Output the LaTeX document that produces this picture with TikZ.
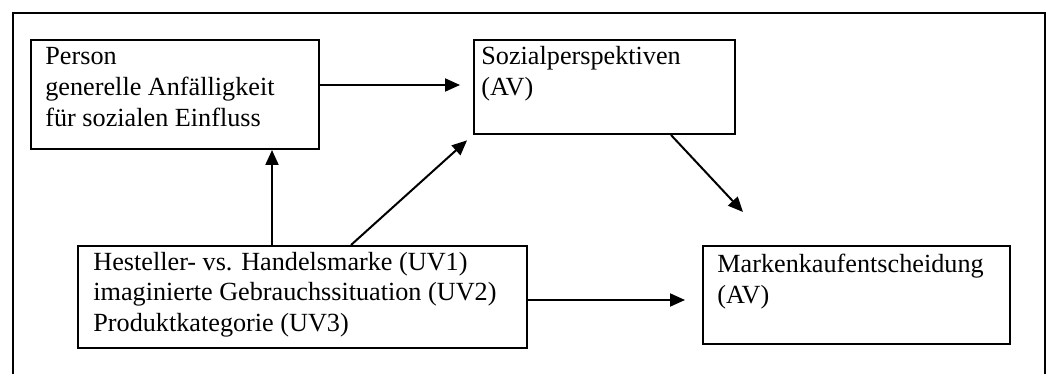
\documentclass[tikz,border=0pt]{standalone}
\usepackage{fontspec}
\setmainfont{Liberation Serif}
\usetikzlibrary{arrows.meta}
\begin{document}
\begin{tikzpicture}[x=0.5pt,y=-0.5pt,
  box/.style={draw, line width=1pt, inner sep=0pt, anchor=north west},
  txt/.style={inner sep=0pt, anchor=base west, font=\fontsize{13.1}{15.5}\selectfont},
  arr/.style={line width=1pt, -{Triangle[length=7.5pt,width=6.5pt]}},
  frame/.style={line width=1.2pt}]
\useasboundingbox (0,0) rectangle (1050,374);
% outer frame
\coordinate (fbl) at (13,380);
\coordinate (ftl) at (13,13);
\coordinate (ftr) at (1045,13);
\coordinate (fbr) at (1045,380);
\draw[frame] (fbl) -- (ftl) -- (ftr) -- (fbr);
% boxes
\node[box, minimum width=144pt, minimum height=54.5pt] (person) at (30,39) {};
\node[box, minimum width=130.5pt, minimum height=47pt] (sozial) at (473,39) {};
\node[box, minimum width=153.5pt, minimum height=49pt] (mark) at (702,245) {};
\node[box, minimum width=224.5pt, minimum height=51pt] (uv) at (77,245) {};
% texts
\node[txt] (persontxt) at (45,65) {\begin{tabular}[t]{@{}l@{}}Person\\generelle Anfälligkeit\\für sozialen Einfluss\end{tabular}};
\node[txt] (sozialtxt) at (481,65) {\begin{tabular}[t]{@{}l@{}}Sozialperspektiven\\(AV)\end{tabular}};
\node[txt] (marktxt) at (717,272) {\begin{tabular}[t]{@{}l@{}}Markenkaufentscheidung\\(AV)\end{tabular}};
\node[txt] (uvtxt) at (93,270) {\begin{tabular}[t]{@{}l@{}}Hesteller- vs. Handelsmarke (UV1)\\imaginierte Gebrauchssituation (UV2)\\Produktkategorie (UV3)\end{tabular}};
% connectors
\coordinate (pa) at ([yshift=4.75pt]person.east);
\draw[arr, shorten >=6.5pt] (pa) -- (pa -| sozial.west);
\coordinate (pv) at ([xshift=48.5pt]person.south);
\draw[arr] (pv |- uv.north) -- (pv);
\draw[arr, shorten >=4pt] ([xshift=24.25pt]uv.north) -- (sozial.south west);
\coordinate (t1) at (743,212);
\draw[arr] ([xshift=33.25pt]sozial.south) -- (t1);
\coordinate (ua) at ([yshift=-1.5pt]uv.east);
\draw[arr, shorten >=8.5pt] (ua) -- (ua -| mark.west);
\end{tikzpicture}
\end{document}
